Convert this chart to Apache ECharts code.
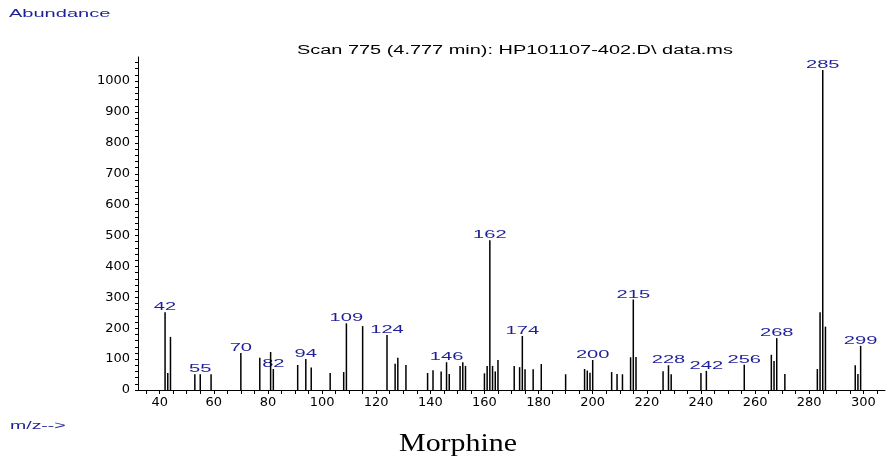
<!DOCTYPE html>
<html>
<head>
<meta charset="utf-8">
<script src="https://cdn.jsdelivr.net/npm/echarts@6/dist/echarts.min.js"></script>
<style>
  html, body { margin: 0; padding: 0; background: #fff; }
  #chart { width: 890px; height: 466px; }
</style>
</head>
<body>
<div id="chart"></div>
<script>
// m/z of every peak and its abundance
var mzValues = [42, 43, 44, 53, 55, 59, 70, 77, 81, 82, 91, 94, 96, 103, 108, 109, 115, 124, 127, 128,
    131, 139, 141, 144, 146, 147, 151, 152, 153, 160, 161, 162, 163, 164, 165, 171, 173, 174, 175, 178,
    181, 190, 197, 198, 199, 200, 207, 209, 211, 214, 215, 216, 226, 228, 229, 240, 242, 256, 266, 267,
    268, 271, 283, 284, 285, 286, 297, 298, 299];
var abundance = [252, 55, 172, 51, 51, 51, 120, 104, 123, 68, 81, 100, 73, 55, 58, 216, 207, 178, 85, 104,
    81, 55, 64, 60, 90, 52, 78, 90, 78, 54, 78, 485, 78, 60, 97, 78, 74, 175, 67, 67,
    84, 51, 68, 63, 56, 97, 58, 52, 51, 106, 293, 107, 61, 80, 51, 55, 62, 82, 114, 94,
    168, 52, 68, 252, 1036, 205, 80, 52, 143];
// peaks that carry an m/z label
var labelledPeaks = [42, 55, 70, 82, 94, 109, 124, 146, 162, 174, 200, 215, 228, 242, 256, 268, 285, 299];
// axis tick labels
var xTickLabels = [40, 60, 80, 100, 120, 140, 160, 180, 200, 220, 240, 260, 280, 300];
var xMinorTicks = [35, 40, 45, 50, 55, 60, 65, 70, 75, 80, 85, 90, 95, 100, 105, 110, 115, 120, 125, 130,
    135, 140, 145, 150, 155, 160, 165, 170, 175, 180, 185, 190, 195, 200, 205, 210, 215, 220, 225, 230,
    235, 240, 245, 250, 255, 260, 265, 270, 275, 280, 285, 290, 295, 300, 305];
var yTickLabels = [0, 100, 200, 300, 400, 500, 600, 700, 800, 900, 1000];
var yMinorTicks = [0, 20, 40, 60, 80, 100, 120, 140, 160, 180, 200, 220, 240, 260, 280, 300, 320, 340,
    360, 380, 400, 420, 440, 460, 480, 500, 520, 540, 560, 580, 600, 620, 640, 660, 680, 700, 720, 740,
    760, 780, 800, 820, 840, 860, 880, 900, 920, 940, 960, 980, 1000, 1020, 1040, 1060];

var chart = echarts.init(document.getElementById('chart'));

var blue = '#1f1f9a';
var sans = 'Liberation Sans, Arial, sans-serif';
var stretch = 1.75; // 原图文字横向拉伸

var barData = mzValues.map(function (mz, i) {
    return [mz, abundance[i]];
});
// 标注峰：从同一组数组里取值
var labelData = labelledPeaks.map(function (mz) {
    return [mz, abundance[mzValues.indexOf(mz)]];
});

var option = {
    animation: false,
    backgroundColor: '#fff',
    textStyle: { fontFamily: sans },
    graphic: [
        {
            type: 'text', x: 9, y: 8, scaleX: 1.82,
            style: { text: 'Abundance', font: '11px ' + sans, fill: blue, verticalAlign: 'top' }
        },
        {
            type: 'text', x: 297, y: 45, scaleX: 1.66,
            style: { text: 'Scan 775 (4.777 min): HP101107-402.D\\ data.ms', font: '12px ' + sans, fill: '#000', verticalAlign: 'top' }
        },
        {
            type: 'text', x: 10, y: 420, scaleX: 1.77,
            style: { text: 'm/z-->', font: '11px ' + sans, fill: blue, verticalAlign: 'top' }
        },
        {
            type: 'text', x: 458, y: 431, scaleX: 1.15,
            style: {
                text: 'Morphine', font: '26px Liberation Serif, Times New Roman, serif',
                fill: '#000', align: 'center', verticalAlign: 'top'
            }
        }
    ],
    grid: { left: 138, right: 5, top: 57, bottom: 76 },
    xAxis: {
        type: 'value',
        min: 32,
        max: 308,
        splitLine: { show: false },
        axisLine: { lineStyle: { color: '#000', width: 1 } },
        axisTick: { show: true, customValues: xMinorTicks, length: 4, lineStyle: { color: '#000' } },
        axisLabel: {
            customValues: xTickLabels, color: '#000', fontSize: 13, margin: 6,
            fontFamily: 'DejaVu Sans, sans-serif'
        }
    },
    yAxis: {
        type: 'value',
        min: 0,
        max: 1078,
        splitLine: { show: false },
        axisLine: { show: true, lineStyle: { color: '#000', width: 1 } },
        axisTick: { show: true, customValues: yMinorTicks, length: 3, lineStyle: { color: '#000' } },
        axisLabel: {
            customValues: yTickLabels, color: '#000', fontSize: 13, margin: 8,
            fontFamily: 'DejaVu Sans, sans-serif',
            formatter: function (v) { return String(v); }
        }
    },
    series: [
        {
            type: 'bar',
            barWidth: 1.5,
            itemStyle: { color: '#000' },
            data: barData
        },
        {
            // 峰标签
            type: 'custom',
            data: labelData,
            renderItem: function (params, api) {
                var pt = api.coord([api.value(0), api.value(1)]);
                return {
                    type: 'text',
                    x: pt[0],
                    y: pt[1] + 1,
                    scaleX: stretch,
                    style: {
                        text: String(api.value(0)),
                        font: '11.5px ' + sans,
                        fill: blue,
                        align: 'center',
                        verticalAlign: 'bottom',
                        backgroundColor: '#fff'
                    }
                };
            }
        }
    ]
};

chart.setOption(option);
</script>
</body>
</html>
